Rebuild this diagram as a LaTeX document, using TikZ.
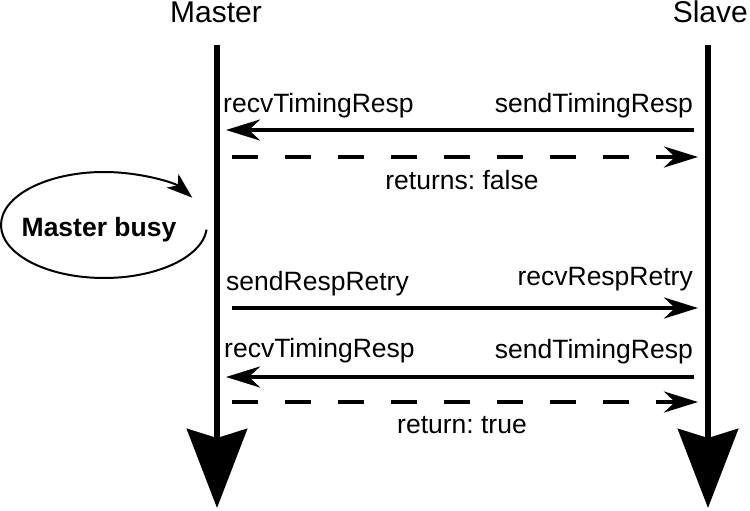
\documentclass[tikz,border=0pt]{standalone}
\usepackage{fontspec}
\setmainfont{Liberation Sans}
\usetikzlibrary{arrows.meta}
\begin{document}
\frenchspacing
\begin{tikzpicture}[x=1pt,y=-1pt,
  lbl/.style={inner sep=0pt,font=\fontsize{26.5}{30}\selectfont},
  hdr/.style={inner sep=0pt,font=\fontsize{30}{32}\selectfont},
  life/.style={line width=6.5pt,-{Stealth[length=79pt,width=60pt,inset=9pt]}},
  msg/.style={line width=4pt,-{Stealth[length=34pt,width=21pt,inset=11pt]}},
  ret/.style={msg,dash pattern=on 26pt off 27pt},
]
\useasboundingbox (0,0) rectangle (750,511);
% headers
\node[hdr,anchor=base] (master) at (216,23) {Master};
\node[hdr,anchor=base east] (slave) at (748,23) {Slave};
% lifelines
\coordinate (mtop) at (217,45);
\coordinate (mbot) at (217,508);
\coordinate (stop) at (708,45);
\coordinate (sbot) at (708,508);
\draw[life] (mtop) -- (mbot);
\draw[life] (stop) -- (sbot);
% message 1
\coordinate (a1s) at (694,130);
\coordinate (a1e) at (226,130);
\draw[msg] (a1s) -- (a1e);
\node[lbl,anchor=base west] (l1) at (223,113) {recvTimingResp};
\node[lbl,anchor=base east] (r1) at (693,113) {sendTimingResp};
% message 2 (dashed)
\coordinate (a2s) at (232,157);
\coordinate (a2e) at (698,157);
\draw[ret] (a2s) -- (a2e);
\node[lbl,anchor=base] (f) at (462,189) {returns: false};
% busy loop
\node[inner sep=0pt,font=\fontsize{26.5}{28}\selectfont\bfseries,anchor=base] (busy) at (99,236) {Master busy};
\coordinate (busyc) at (104,225);
\draw[line width=2pt,-{Stealth[length=26pt,width=18pt,inset=7pt]}]
  ([shift={(-5:103pt and 53pt)}]busyc) arc[start angle=-5,end angle=-329,x radius=103pt,y radius=53pt];
% message 3
\coordinate (a3s) at (232,308);
\coordinate (a3e) at (698,308);
\draw[msg] (a3s) -- (a3e);
\node[lbl,anchor=base west] (l3) at (226,290) {sendRespRetry};
\node[lbl,anchor=base east] (r3) at (693,285) {recvRespRetry};
% message 4
\coordinate (a4s) at (694,377);
\coordinate (a4e) at (226,377);
\draw[msg] (a4s) -- (a4e);
\node[lbl,anchor=base west] (l4) at (224,357) {recvTimingResp};
\node[lbl,anchor=base east] (r4) at (693,358) {sendTimingResp};
% message 5 (dashed)
\coordinate (a5s) at (232,402);
\coordinate (a5e) at (698,402);
\draw[ret] (a5s) -- (a5e);
\node[lbl,anchor=base] (t) at (462,433) {return: true};
\end{tikzpicture}
\end{document}
